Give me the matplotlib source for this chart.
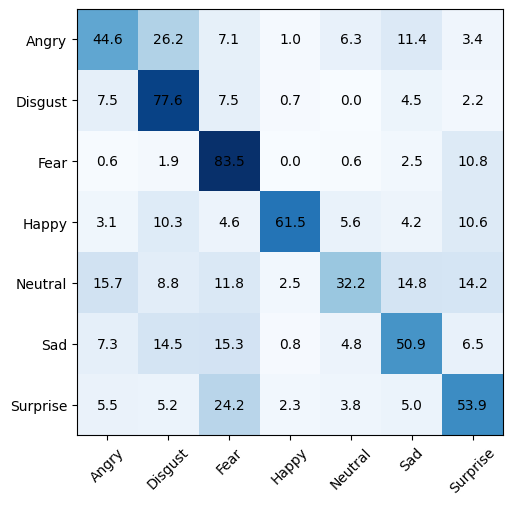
import matplotlib
matplotlib.use("Agg")
import matplotlib.pyplot as plt
import numpy as np

labels = ["Angry", "Disgust", "Fear", "Happy", "Neutral", "Sad", "Surprise"]
row_angry = [44.6, 26.2, 7.1, 1.0, 6.3, 11.4, 3.4]
row_disgust = [7.5, 77.6, 7.5, 0.7, 0.0, 4.5, 2.2]
row_fear = [0.6, 1.9, 83.5, 0.0, 0.6, 2.5, 10.8]
row_happy = [3.1, 10.3, 4.6, 61.5, 5.6, 4.2, 10.6]
row_neutral = [15.7, 8.8, 11.8, 2.5, 32.2, 14.8, 14.2]
row_sad = [7.3, 14.5, 15.3, 0.8, 4.8, 50.9, 6.5]
row_surprise = [5.5, 5.2, 24.2, 2.3, 3.8, 5.0, 53.9]

cm = np.array([row_angry, row_disgust, row_fear, row_happy, row_neutral, row_sad, row_surprise])

fig = plt.figure(figsize=(5.13, 5.06), dpi=100)
ax = fig.add_axes([77/513, 1-436/506, 426/513, 426/506])
ax.imshow(cm, cmap="Blues", aspect="auto")
for i in range(cm.shape[0]):
    for j in range(cm.shape[1]):
        ax.text(j, i, f"{cm[i, j]:.1f}", ha="center", va="center", color="black", fontsize=10)
ax.set_xticks(range(len(labels)))
ax.set_xticklabels(labels, rotation=45)
ax.set_yticks(range(len(labels)))
ax.set_yticklabels(labels)
fig.savefig("out.png", dpi=100)
